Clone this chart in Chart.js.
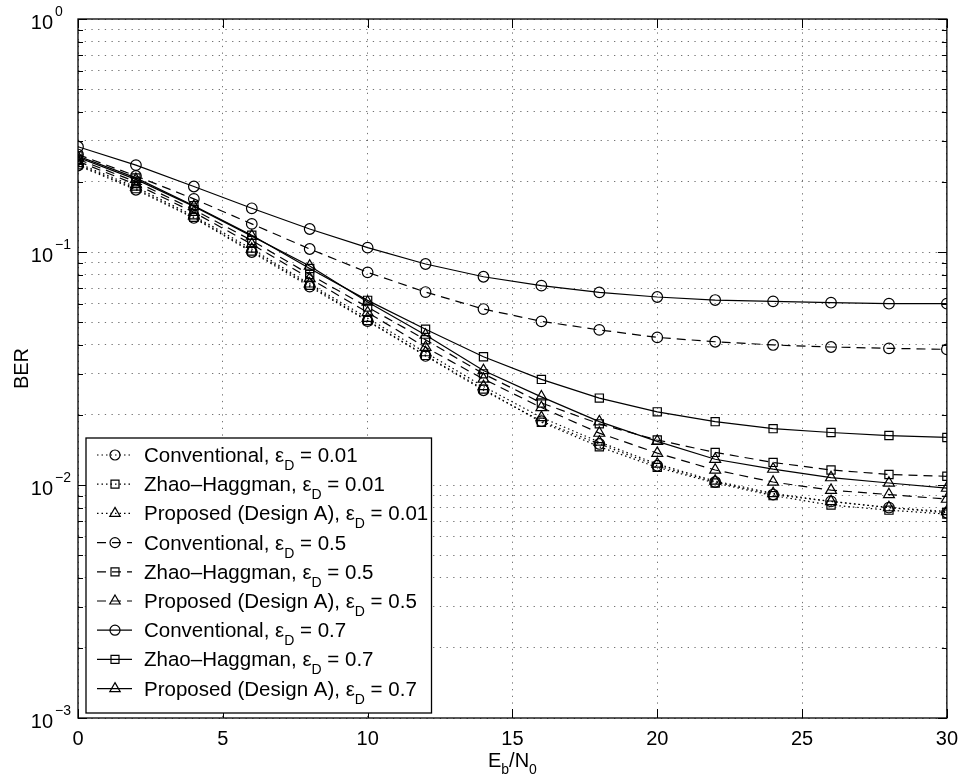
<!DOCTYPE html>
<html>
<head>
<meta charset="utf-8">
<title>BER vs Eb/N0</title>
<script src="https://cdn.jsdelivr.net/npm/chart.js@4/dist/chart.umd.min.js"></script>
<style>
  html, body { margin: 0; padding: 0; background: #fff; }
  #wrap { width: 967px; height: 778px; }
</style>
</head>
<body>
<div id="wrap"><canvas id="berChart" width="967" height="778"></canvas></div>
<script>
// x axis: Eb/N0 in dB
const ebn0 = [0, 2, 4, 6, 8, 10, 12, 14, 16, 18, 20, 22, 24, 26, 28, 30];

// eps_D = 0.01 (dotted)
const convLow = [0.235, 0.185, 0.140, 0.100, 0.071, 0.0505, 0.0358, 0.0255, 0.0188, 0.0150, 0.0121, 0.0103, 0.0091, 0.0085, 0.0080, 0.0076];
const zhLow   = [0.237, 0.187, 0.141, 0.101, 0.072, 0.0508, 0.0360, 0.0258, 0.0186, 0.0146, 0.0119, 0.0102, 0.0090, 0.0082, 0.0078, 0.0075];
const propLow = [0.240, 0.190, 0.143, 0.103, 0.073, 0.0520, 0.0370, 0.0265, 0.0195, 0.0153, 0.0123, 0.0104, 0.0092, 0.0085, 0.0080, 0.0077];

// eps_D = 0.5 (dashed)
const convMid = [0.262, 0.212, 0.169, 0.132, 0.103, 0.0818, 0.0673, 0.0569, 0.0504, 0.0463, 0.0430, 0.0412, 0.0399, 0.0391, 0.0386, 0.0382];
const zhMid   = [0.250, 0.200, 0.152, 0.112, 0.080, 0.0580, 0.0420, 0.0300, 0.0225, 0.0183, 0.0156, 0.0138, 0.0125, 0.0116, 0.0111, 0.0109];
const propMid = [0.245, 0.195, 0.148, 0.108, 0.077, 0.0550, 0.0390, 0.0285, 0.0215, 0.0167, 0.0137, 0.0116, 0.0103, 0.0095, 0.0091, 0.0087];

// eps_D = 0.7 (solid)
const convHigh = [0.283, 0.236, 0.191, 0.154, 0.1255, 0.1044, 0.0888, 0.0783, 0.0717, 0.0671, 0.0641, 0.0622, 0.0614, 0.0606, 0.0600, 0.0600];
const zhHigh   = [0.258, 0.208, 0.158, 0.118, 0.085, 0.0620, 0.0466, 0.0355, 0.0284, 0.0236, 0.0206, 0.0187, 0.01745, 0.0168, 0.0163, 0.0160];
const propHigh = [0.255, 0.205, 0.157, 0.117, 0.087, 0.0610, 0.0440, 0.0310, 0.0239, 0.0187, 0.0154, 0.0129, 0.0117, 0.01076, 0.0102, 0.0097];

// legend text: [method, eps value]
const seriesNames = [
  ['Conventional', '0.01'], ['Zhao\u2013Haggman', '0.01'], ['Proposed (Design A)', '0.01'],
  ['Conventional', '0.5'],  ['Zhao\u2013Haggman', '0.5'],  ['Proposed (Design A)', '0.5'],
  ['Conventional', '0.7'],  ['Zhao\u2013Haggman', '0.7'],  ['Proposed (Design A)', '0.7']
];
const seriesValues = [convLow, zhLow, propLow, convMid, zhMid, propMid, convHigh, zhHigh, propHigh];

// axis ticks
const xTicks = [0, 5, 10, 15, 20, 25, 30];
const yDecades = [0.001, 0.01, 0.1, 1];
const yDecadeExp = ['\u22123', '\u22122', '\u22121', '0'];
const yMinorMult = [2, 3, 4, 5, 6, 7, 8, 9];

const FONT = '"Liberation Sans", Arial, Helvetica, sans-serif';
const DOTTED = [1.5, 3];
const DASHED = [9, 6];
const markers = ['circle', 'rect', 'triangle'];
const dashes = [DOTTED, DASHED, []];

const datasets = seriesValues.map((vals, i) => ({
  label: seriesNames[i].join(', '),
  data: ebn0.map((x, j) => ({ x: x, y: vals[j] })),
  borderColor: '#000',
  borderWidth: 1.2,
  borderDash: dashes[Math.floor(i / 3)],
  pointStyle: markers[i % 3],
  pointRadius: [5.3, 5.8, 6.3][i % 3],
  pointBorderWidth: 1.2,
  pointBorderColor: '#000',
  pointBackgroundColor: 'rgba(0,0,0,0)',
  fill: false,
  tension: 0
}));

function drawMarker(ctx, style, x, y) {
  ctx.beginPath();
  if (style === 'circle') {
    ctx.arc(x, y, 5, 0, Math.PI * 2);
  } else if (style === 'rect') {
    ctx.rect(x - 4, y - 4, 8, 8);
  } else {
    ctx.moveTo(x, y - 6);
    ctx.lineTo(x + 5.2, y + 3);
    ctx.lineTo(x - 5.2, y + 3);
    ctx.closePath();
  }
  ctx.stroke();
}

const matlabDecor = {
  id: 'matlabDecor',
  afterDraw(chart) {
    const ctx = chart.ctx;
    const area = chart.chartArea;
    const xs = chart.scales.x;
    const ys = chart.scales.y;
    ctx.save();
    ctx.strokeStyle = '#000';
    ctx.fillStyle = '#000';
    ctx.lineWidth = 1;
    ctx.setLineDash([]);

    // tick marks, inside, on all four sides
    ctx.beginPath();
    xTicks.forEach(v => {
      const px = Math.round(xs.getPixelForValue(v)) + 0.5;
      ctx.moveTo(px, area.bottom); ctx.lineTo(px, area.bottom - 9);
      ctx.moveTo(px, area.top); ctx.lineTo(px, area.top + 9);
    });
    yDecades.forEach((d, k) => {
      const py = Math.round(ys.getPixelForValue(d)) + 0.5;
      ctx.moveTo(area.left, py); ctx.lineTo(area.left + 9, py);
      ctx.moveTo(area.right, py); ctx.lineTo(area.right - 9, py);
      if (k < yDecades.length - 1) {
        yMinorMult.forEach(m => {
          const my = Math.round(ys.getPixelForValue(d * m)) + 0.5;
          ctx.moveTo(area.left, my); ctx.lineTo(area.left + 5, my);
          ctx.moveTo(area.right, my); ctx.lineTo(area.right - 5, my);
        });
      }
    });
    ctx.stroke();

    // axes box
    ctx.lineWidth = 1.3;
    ctx.strokeRect(area.left, area.top, area.right - area.left, area.bottom - area.top);

    // y tick labels 10^n
    yDecades.forEach((d, k) => {
      const py = ys.getPixelForValue(d);
      ctx.font = '20px ' + FONT;
      ctx.textAlign = 'right';
      ctx.textBaseline = 'alphabetic';
      ctx.fillText('10', 53, py + 10);
      ctx.font = '14px ' + FONT;
      ctx.textAlign = 'left';
      ctx.fillText(yDecadeExp[k], 55, py - 3);
    });

    // y axis title
    ctx.save();
    ctx.translate(28, (area.top + area.bottom) / 2);
    ctx.rotate(-Math.PI / 2);
    ctx.font = '20px ' + FONT;
    ctx.textAlign = 'center';
    ctx.textBaseline = 'alphabetic';
    ctx.fillText('BER', 0, 0);
    ctx.restore();

    // x axis title E_b/N_0
    const parts = [['E', 20, 0], ['b', 14, 7], ['/N', 20, 0], ['0', 14, 7]];
    let total = 0;
    parts.forEach(p => { ctx.font = p[1] + 'px ' + FONT; total += ctx.measureText(p[0]).width; });
    let tx = (area.left + area.right) / 2 - total / 2;
    ctx.textAlign = 'left';
    parts.forEach(p => {
      ctx.font = p[1] + 'px ' + FONT;
      ctx.fillText(p[0], tx, 767 + p[2]);
      tx += ctx.measureText(p[0]).width;
    });

    // legend
    const lx = 86, ly = 438, rowH = 29.2, firstRow = 455;
    let maxW = 0;
    seriesNames.forEach(n => {
      ctx.font = '20px ' + FONT;
      let w = ctx.measureText(n[0] + ', \u03b5').width + ctx.measureText(' = ' + n[1]).width;
      ctx.font = '14px ' + FONT;
      w += ctx.measureText('D').width;
      maxW = Math.max(maxW, w);
    });
    const lw = 144 - lx + maxW + 10;
    const lh = 713 - ly;
    ctx.fillStyle = '#fff';
    ctx.fillRect(lx, ly, lw, lh);
    ctx.lineWidth = 1.3;
    ctx.strokeStyle = '#000';
    ctx.strokeRect(lx, ly, lw, lh);
    ctx.fillStyle = '#000';
    seriesNames.forEach((n, i) => {
      const cy = firstRow + i * rowH;
      ctx.lineWidth = 1.2;
      ctx.setLineDash(dashes[Math.floor(i / 3)]);
      ctx.beginPath();
      ctx.moveTo(97, cy); ctx.lineTo(132, cy);
      ctx.stroke();
      ctx.setLineDash([]);
      drawMarker(ctx, markers[i % 3], 115, cy);
      let x = 144;
      ctx.font = '20.5px ' + FONT;
      const head = n[0] + ', \u03b5';
      ctx.fillText(head, x, cy + 7);
      x += ctx.measureText(head).width;
      ctx.font = '14px ' + FONT;
      ctx.fillText('D', x, cy + 15);
      x += ctx.measureText('D').width;
      ctx.font = '20.5px ' + FONT;
      ctx.fillText(' = ' + n[1], x, cy + 7);
    });
    ctx.restore();
  }
};

new Chart(document.getElementById('berChart'), {
  type: 'line',
  data: { datasets: datasets },
  plugins: [matlabDecor],
  options: {
    responsive: false,
    animation: false,
    layout: { padding: { top: 19, right: 16, left: 0, bottom: 0 } },
    plugins: { legend: { display: false }, tooltip: { enabled: false } },
    scales: {
      x: {
        type: 'linear',
        min: 0,
        max: 30,
        afterBuildTicks: scale => { scale.ticks = xTicks.map(v => ({ value: v })); },
        afterFit: scale => { scale.height = 60; },
        grid: { color: 'rgba(0,0,0,0.55)', lineWidth: 1, drawTicks: false },
        border: { display: false, dash: [1.3, 5.4] },
        ticks: { color: '#000', font: { size: 20, family: FONT }, padding: 9, maxRotation: 0 }
      },
      y: {
        type: 'logarithmic',
        min: 0.001,
        max: 1,
        afterBuildTicks: scale => {
          const t = [];
          yDecades.forEach((d, k) => {
            t.push({ value: d });
            if (k < yDecades.length - 1) yMinorMult.forEach(m => t.push({ value: d * m }));
          });
          scale.ticks = t;
        },
        afterFit: scale => { scale.width = 78; },
        grid: { color: 'rgba(0,0,0,0.55)', lineWidth: 1, drawTicks: false },
        border: { display: false, dash: [1.3, 5.4] },
        ticks: { display: false }
      }
    }
  }
});
</script>
</body>
</html>
